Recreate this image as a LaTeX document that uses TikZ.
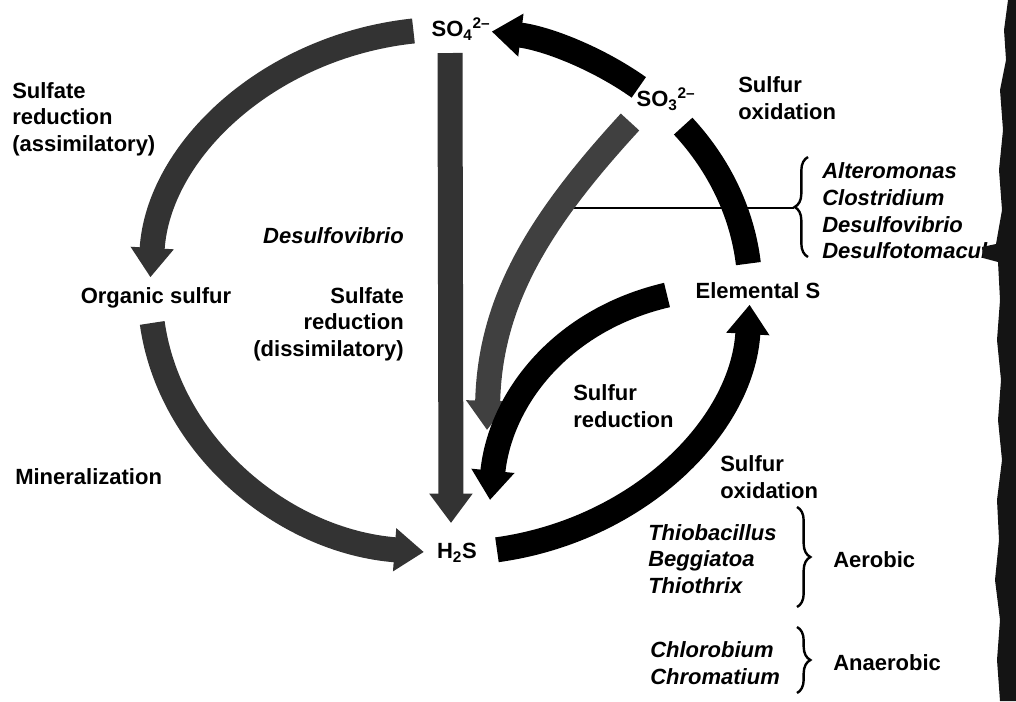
\documentclass[tikz,border=0pt]{standalone}
\usepackage{fontspec}
\setmainfont{Liberation Sans}
\usetikzlibrary{arrows.meta,decorations.pathreplacing}
\newcommand\lsz{\fontsize{16.5pt}{20pt}\selectfont}
\begin{document}
\begin{tikzpicture}[x=0.75pt,y=-0.75pt,
  band/.style={line width=18.75pt},
  grayband/.style={band, draw=black!80},
  blackband/.style={band, draw=black},
  head/.style={-{Triangle[width=31pt,length=22pt]}},
  lbl/.style={font=\lsz\bfseries, inner sep=0pt},
  gen/.style={font=\lsz\bfseries\itshape, inner sep=0pt, align=left, anchor=west},
  brc/.style={line width=1.8pt, decorate, decoration={brace, amplitude=10pt}},
  conn/.style={line width=1.5pt}
]
\useasboundingbox (0,0) rectangle (1016,701);

% ---------- labels ----------
\node[lbl, align=left, anchor=west] (assim) at (12,119) {Sulfate\\reduction\\(assimilatory)};
\node[lbl] (org) at (156,298) {Organic sulfur};
\node[lbl, anchor=west] (miner) at (15,477) {Mineralization};
\node[lbl, font=\lsz\bfseries\itshape, anchor=east] (dv) at (404,236) {Desulfovibrio};
\node[lbl, align=right, anchor=east] (dissim) at (404,324) {Sulfate\\reduction\\(dissimilatory)};
\node[lbl] (so4) at (461,29) {SO\textsubscript{4}\textsuperscript{2–}};
\node[lbl] (so3) at (666,99) {SO\textsubscript{3}\textsuperscript{2–}};
\node[lbl, align=left, anchor=west] (soxup) at (738,98) {Sulfur\\oxidation};
\node[gen] (gen1) at (822,211) {Alteromonas\\Clostridium\\Desulfovibrio\\Desulfotomaculum};
\node[lbl] (elem) at (758,291) {Elemental S};
\node[lbl, align=left, anchor=west] (sred) at (573,406) {Sulfur\\reduction};
\node[lbl, align=left, anchor=west] (soxlow) at (720,477) {Sulfur\\oxidation};
\node[gen] (aergen) at (648,559) {Thiobacillus\\Beggiatoa\\Thiothrix};
\node[lbl, anchor=west] (aer) at (833,560) {Aerobic};
\node[gen] (angen) at (650,663) {Chlorobium\\Chromatium};
\node[lbl, anchor=west] (anaer) at (833,663) {Anaerobic};
\node[lbl] (h2s) at (457,553) {H\textsubscript{2}S};

% ---------- braces ----------
\coordinate (b1tip) at (794,208);
\draw[brc] (808,257) -- (808,157);
\draw[brc] (797,507) -- (797,607);
\draw[brc] (797,627) -- (797,693);

% ---------- connector line to brace ----------
\coordinate (lnstart) at (560,208);
\draw[conn] (lnstart) -- (b1tip);

% ---------- ellipse arcs (centre 450,291; rx 300; ry 262) ----------
\coordinate (a1s) at ({450+300*cos(97)},{291-262*sin(97)});
\coordinate (a2s) at ({450+300*cos(187)},{291-262*sin(187)});
\coordinate (a3s) at ({450+300*cos(279)},{291-262*sin(279)});
\coordinate (a4s) at ({450+300*cos(6)},{291-262*sin(6)});
\coordinate (a5s) at ({450+300*cos(51)},{291-262*sin(51)});

\draw[grayband, head] (a1s) arc[start angle=-97, end angle=-177, x radius=300, y radius=262];
\draw[grayband, head] (a2s) arc[start angle=-187, end angle=-265, x radius=300, y radius=262];
\draw[blackband, head] (a3s) arc[start angle=-279, end angle=-357, x radius=300, y radius=262];
\draw[blackband] (a4s) arc[start angle=-6, end angle=-39, x radius=300, y radius=262];
\draw[blackband, head] (a5s) arc[start angle=-51, end angle=-82, x radius=300, y radius=262];

% ---------- inner arrows ----------
\coordinate (vs) at (450,53);
\coordinate (ve) at (451,523);
\draw[grayband, head] (vs) -- (ve);

\coordinate (s3s) at (630,122);
\coordinate (s3e) at (487,430);
\draw[band, draw=black!75, head] (s3s) .. controls (540,220) and (490,300) .. (s3e);

\coordinate (srs) at (667,295);
\coordinate (sre) at (490,500);
\draw[blackband, head] (srs) .. controls (560,320) and (500,400) .. (sre);

% ---------- scanned page edge ----------
\fill[black!92] (1016,0) -- (1008,0) -- (1004,30) -- (1006,60) -- (1000,90) -- (1003,130)
  -- (999,170) -- (1002,210) -- (996,244) -- (982,247) -- (983,258) -- (998,262)
  -- (1000,300) -- (997,340) -- (1001,380) -- (998,420) -- (1002,460) -- (997,500)
  -- (999,540) -- (995,580) -- (1000,620) -- (997,660) -- (1000,701) -- (1016,701) -- cycle;
\end{tikzpicture}
\end{document}
